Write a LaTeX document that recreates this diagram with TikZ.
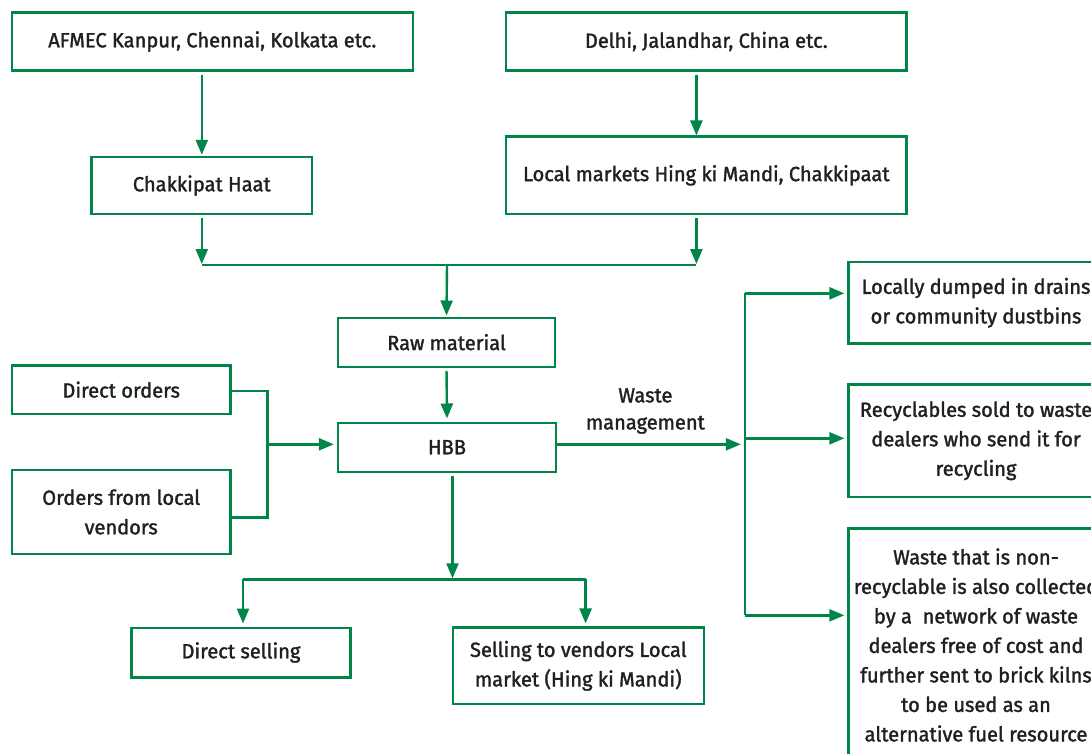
\documentclass[tikz,border=0pt]{standalone}
\usepackage{fontspec}
\setmainfont{Fira Sans}[FakeStretch=0.98,FakeBold=1.6]
\usetikzlibrary{arrows.meta}
\definecolor{gr}{RGB}{0,134,72}
\definecolor{tx}{RGB}{35,31,32}
\tikzset{
  box/.style={draw=gr, line width=2.4pt, rectangle, inner sep=0pt, align=center, text=tx,
    font=\fontsize{20.5}{29.5}\selectfont},
  arr/.style={draw=gr, line width=2.4pt, -{Triangle[length=15pt,width=12pt]}},
  ln/.style={draw=gr, line width=2.4pt},
}
\begin{document}
\begin{tikzpicture}[x=1pt,y=-1pt]
\useasboundingbox (0,0) rectangle (1091,753);
\clip (0,0) rectangle (1091,753);
\fill[white] (0,0) rectangle (1091,753);
% nodes
\node[box, minimum width=401pt, minimum height=58pt] (A) at (212.3,41.5) {AFMEC Kanpur, Chennai, Kolkata etc.};
\node[box, minimum width=400.5pt, minimum height=58pt] (B) at (706.3,41.5) {Delhi, Jalandhar, China etc.};
\node[box, minimum width=220.5pt, minimum height=57pt] (C) at (201.8,185.5) {Chakkipat Haat};
\node[box, minimum width=400.5pt, minimum height=77.3pt] (L) at (706.3,175.3) {Local markets Hing ki Mandi, Chakkipaat};
\node[box, minimum width=217pt, minimum height=49pt] (R) at (446.5,342.2) {Raw material};
\node[box, minimum width=218.4pt, minimum height=48.7pt] (D) at (121.2,389.7) {Direct orders};
\node[box, minimum width=218.4pt, minimum height=84pt] (O) at (121.2,512) {Orders from local\\vendors};
\node[box, minimum width=218pt, minimum height=49pt] (H) at (447,447.2) {HBB};
\node[box, minimum width=219pt, minimum height=49.6pt] (S) at (241,652.5) {Direct selling};
\node[box, minimum width=251pt, minimum height=76.3pt] (V) at (578.3,665.8) {Selling to vendors Local\\market (Hing ki Mandi)};
\node[box, minimum width=255pt, minimum height=81.7pt] (W1) at (976,302.8) {Locally dumped in drains\\or community dustbins};
\node[box, minimum width=255pt, minimum height=112.3pt] (W2) at (976,440.8) {Recyclables sold to waste\\dealers who send it for\\recycling};
\node[box, minimum width=255pt, minimum height=233.4pt] (W3) at (976,645) {Waste that is non-\\recyclable is also collected\\by a\ \ network of waste\\dealers free of cost and\\further sent to brick kilns\\to be used as an\\alternative fuel resource};
\node[text=tx, align=center, font=\fontsize{20.5}{27}\selectfont] (WM) at (645.4,411) {Waste\\management};
% coordinates
\coordinate (bx) at (696.4,0);
\coordinate (jl) at (201.8,265);
\coordinate (jr) at (696.4,265);
\coordinate (jm) at (447,265);
\coordinate (ot) at (267.3,390.7);
\coordinate (ob) at (267.3,517.3);
\coordinate (om) at (267.3,444.3);
\coordinate (hd) at (452.5,579.3);
\coordinate (sl) at (243,579.3);
\coordinate (sr) at (585.6,579.3);
\coordinate (wt) at (744.8,293.3);
\coordinate (wm) at (744.8,438.3);
\coordinate (wb) at (744.8,615.3);
% connectors
\draw[arr, shorten <=3pt, shorten >=1pt] (C.north |- A.south) -- (C.north);
\draw[arr, shorten <=3pt, shorten >=0pt] (bx |- B.south) -- (bx |- L.north);
\draw[arr, shorten <=3pt, shorten >=1pt] (C.south) -- (jl);
\draw[arr, shorten <=3pt, shorten >=1pt] (bx |- L.south) -- (jr);
\draw[ln] (jl) -- (jr);
\draw[arr, shorten >=1pt] (jm) -- (R.north);
\draw[arr, shorten <=3pt, shorten >=3pt] (R.south) -- (H.north);
\draw[ln] (D.east |- ot) -- (ot) -- (ob) -- (O.east |- ob);
\draw[arr, shorten >=3pt] (om) -- (H.west |- om);
\draw[arr, shorten <=3pt, shorten >=1pt] (hd |- H.south) -- (hd);
\draw[ln] (sl) -- (sr);
\draw[arr, shorten >=3pt] (sl) -- (sl |- S.north);
\draw[arr, shorten >=3pt] (sr) -- (sr |- V.north);
\draw[arr, shorten >=4pt] (H.east |- om) -- (om -| wm);
\draw[ln] (wt) -- (wb);
\draw[arr, shorten >=3pt] (wt) -- (wt -| W1.west);
\draw[arr, shorten >=3pt] (wm) -- (wm -| W2.west);
\draw[arr, shorten >=3pt] (wb) -- (wb -| W3.west);
\end{tikzpicture}
\end{document}
